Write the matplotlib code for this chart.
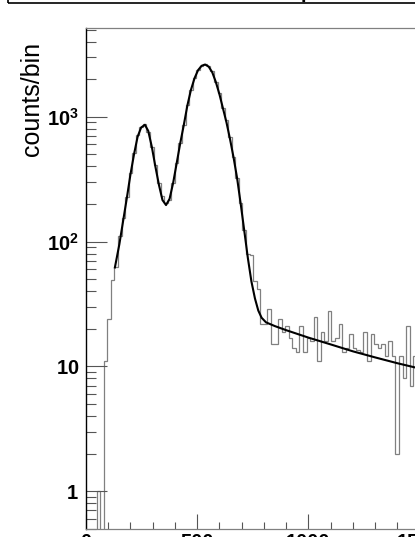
import numpy as np
import matplotlib
matplotlib.use("Agg")
import matplotlib.pyplot as plt
from matplotlib.patches import Rectangle
from matplotlib.ticker import FixedLocator, LogLocator, MultipleLocator, NullFormatter

plt.rcParams['font.family'] = ['Liberation Sans', 'DejaVu Sans']
plt.rcParams['mathtext.fontset'] = 'custom'
plt.rcParams['mathtext.rm'] = 'Liberation Sans'
plt.rcParams['mathtext.bf'] = 'Liberation Sans:bold'

# histogram: 16 channels per bin, starting at 0
bin_width = 16
counts = [
    0, 0, 0, 1, 0, 11, 24, 49, 63, 110,
    155, 229, 353, 511, 716, 826, 877, 760, 577, 411,
    293, 230, 205, 215, 293, 425, 614, 861, 1245, 1644,
    2042, 2350, 2560, 2656, 2530, 2305, 1914, 1546, 1172, 944,
    686, 480, 322, 203, 124, 80, 78, 48, 42, 22,
    22, 29, 15, 15, 24, 19, 21, 17, 14, 13,
    21, 13, 17, 16, 25, 11, 19, 16, 28, 16,
    17, 22, 13, 14, 18, 14, 13.5, 13, 19, 11,
    18, 15, 14, 15, 12, 16, 12, 2, 12, 8,
    21, 7, 12,
]

# fitted curve (two peaks + background)
fit_x = [130, 150, 168, 184, 200, 216, 232, 248, 265, 280,
         296, 312, 328, 344, 360, 376, 392, 408, 424, 440,
         456, 472, 488, 504, 520, 536, 552, 568, 584, 600,
         616, 632, 648, 664, 680, 696, 712, 728, 744, 760,
         775, 790, 810, 850, 900, 1000, 1100, 1200, 1300, 1400, 1480]
fit_y = [62, 95, 150, 225, 345, 500, 690, 820, 862, 770,
         575, 400, 285, 215, 196, 220, 295, 425, 615, 860,
         1230, 1640, 2030, 2360, 2560, 2620, 2520, 2270, 1900, 1520,
         1170, 900, 660, 470, 320, 200, 122, 74, 48, 35,
         28, 24.5, 22.5, 21, 19.5, 17, 15, 13.2, 11.8, 10.6, 9.8]

x_ticks = [0, 500, 1000, 1500, 2000]
y_ticks = [1, 10, 100, 1000]
y_tick_labels = [r'$\mathbf{1}$', r'$\mathbf{10}$', r'$\mathbf{10^{2}}$', r'$\mathbf{10^{3}}$']


def plot_spectrum(save_path):
    W, H = 415, 537
    fig = plt.figure(figsize=(W / 100, H / 100), dpi=100)

    # axes runs past the right edge of the picture
    left, right_px = 86, 86 + 2000 * 0.2223
    bottom, top = 528.7, 28.3
    ax = fig.add_axes([left / W, (H - bottom) / H, (right_px - left) / W, (bottom - top) / H])

    edges = np.arange(len(counts) + 1) * bin_width
    ax.stairs(counts, edges, baseline=None, color='#808080', lw=0.9)
    ax.plot(fit_x, fit_y, color='black', lw=1.5)

    ax.set_yscale('log')
    ax.set_xlim(0, 2000)
    ax.set_ylim(0.5, 5114)

    ax.yaxis.set_major_locator(FixedLocator(y_ticks))
    ax.set_yticklabels(y_tick_labels)
    ax.yaxis.set_minor_locator(LogLocator(base=10, subs=np.arange(2, 10)))
    ax.yaxis.set_minor_formatter(NullFormatter())
    ax.xaxis.set_major_locator(FixedLocator(x_ticks))
    ax.set_xticklabels([str(t) for t in x_ticks], fontweight='bold')
    ax.xaxis.set_minor_locator(MultipleLocator(100))

    ax.tick_params(axis='y', which='major', direction='in', length=15, width=0.8,
                   color='#555555', labelsize=14.5, pad=5, right=False)
    ax.tick_params(axis='y', which='minor', direction='in', length=7.2, width=0.8,
                   color='#555555', right=False)
    ax.tick_params(axis='x', which='major', direction='in', length=10.8, width=0.8,
                   color='#555555', labelsize=14.5, pad=3, top=False)
    ax.tick_params(axis='x', which='minor', direction='in', length=5.4, width=0.8,
                   color='#555555', top=False)

    ax.spines['left'].set_color('black')
    ax.spines['left'].set_linewidth(1.0)
    for s in ('bottom', 'top'):
        ax.spines[s].set_color('#808080')
        ax.spines[s].set_linewidth(0.9)

    fig.text(20 / W, 1 - 42 / H, 'counts/bin', rotation=90, ha='left', va='top', fontsize=18)

    # title pave, mostly cut off above the picture
    fig.add_artist(Rectangle((8.3 / W, 1 - 3.3 / H), 1.2, 0.5, transform=fig.transFigure,
                             fill=False, ec='black', lw=1.2, clip_on=False))
    fig.text(301 / W, 1 + 2 / H, 'p', ha='left', va='baseline', fontsize=14.5, fontweight='bold')

    fig.savefig(save_path, dpi=100)
    plt.close(fig)


if __name__ == "__main__":
    plot_spectrum("out.png")
